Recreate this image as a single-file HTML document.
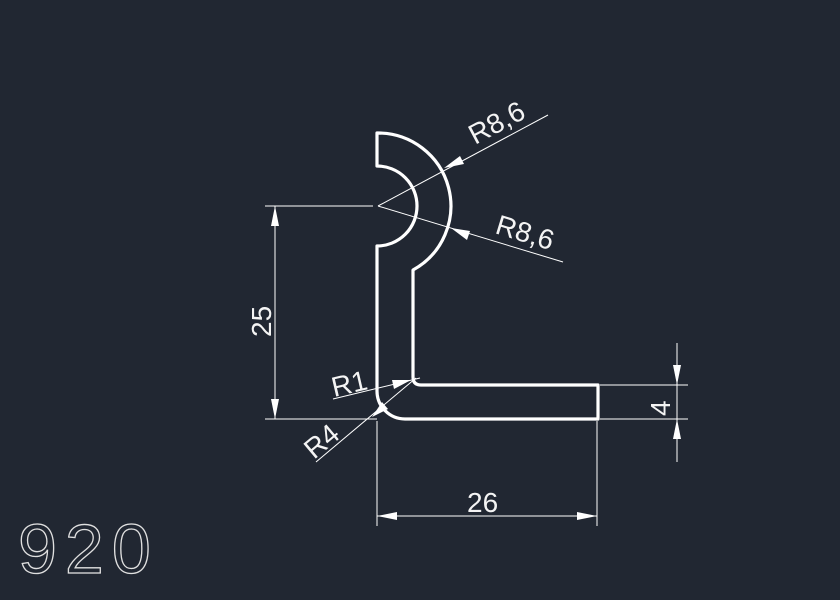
<!DOCTYPE html>
<html><head><style>html,body{margin:0;padding:0;background:#212732;}svg{display:block}</style></head>
<body>
<svg width="840" height="600" viewBox="0 0 840 600" xmlns="http://www.w3.org/2000/svg">
<rect width="840" height="600" fill="#212732"/>
<path d="M377,133 A73,73 0 0 1 413,270 L413,377 Q413,385 421,385 L598,385 L598,419 L405,419 A28,28 0 0 1 377,391 L377,246 A37,37 0 0 0 377,166 Z" fill="none" stroke="#fff" stroke-width="3.2" stroke-linejoin="round"/>
<g stroke="#fff" stroke-width="1" fill="none">
<line x1="265" y1="206" x2="373" y2="206"/>
<line x1="265" y1="419" x2="377" y2="419"/>
<line x1="275" y1="206" x2="275" y2="419"/>
<line x1="378" y1="206" x2="548" y2="115"/>
<line x1="378" y1="206" x2="563" y2="262"/>
<line x1="333" y1="399" x2="420" y2="378"/>
<line x1="316" y1="462" x2="416" y2="378"/>
<line x1="600" y1="385" x2="688" y2="385"/>
<line x1="600" y1="419" x2="688" y2="419"/>
<line x1="677" y1="343" x2="677" y2="462"/>
<line x1="377" y1="421" x2="377" y2="526"/>
<line x1="597" y1="421" x2="597" y2="526"/>
<line x1="377" y1="516" x2="597" y2="516"/>
</g>
<g fill="#fff">
<polygon points="275,206 271,226 279,226"/>
<polygon points="275,419 271,399 279,399"/>
<polygon points="444,168 460,156 464,164"/>
<polygon points="451,228 470,231 467,240"/>
<polygon points="411,380 392,380 394,389"/>
<polygon points="372,417 382,402 388,409"/>
<polygon points="677,385 673,365 681,365"/>
<polygon points="677,419 673,439 681,439"/>
<polygon points="377,516 397,512 397,520"/>
<polygon points="597,516 577,512 577,520"/>
</g>
<g font-family="Liberation Sans, sans-serif" fill="#f4f4f4" font-size="28">
<text transform="translate(475,145) rotate(-28)">R8,6</text>
<text transform="translate(494,233) rotate(17)">R8,6</text>
<text transform="translate(271,337) rotate(-90)">25</text>
<text transform="translate(334,397) rotate(-13)">R1</text>
<text transform="translate(314,460) rotate(-40)">R4</text>
<text transform="translate(670,416) rotate(-90)">4</text>
<text x="467" y="512">26</text>
</g>
<text x="18" y="573" font-family="Liberation Sans, sans-serif" font-size="70" fill="none" stroke="#e0e0e0" stroke-width="1.3" letter-spacing="8">920</text>
</svg>
</body></html>
